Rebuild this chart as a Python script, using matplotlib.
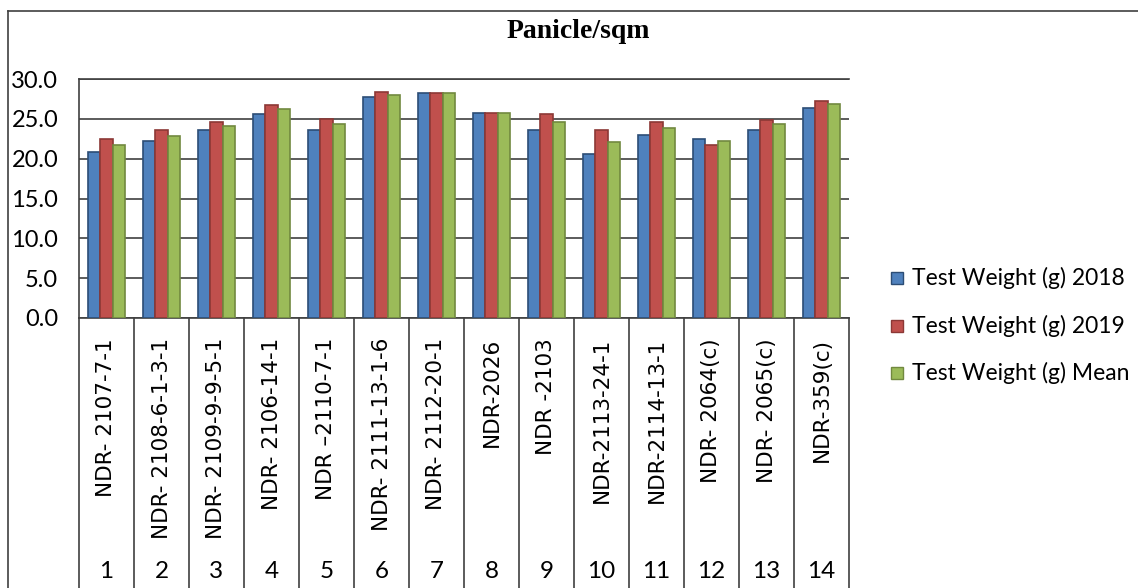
import matplotlib.pyplot as plt
import matplotlib.lines as mlines
import matplotlib.patches as mpatches
import numpy as np

# Datos del grafico
lineas = ['NDR- 2107-7-1', 'NDR- 2108-6-1-3-1', 'NDR- 2109-9-9-5-1', 'NDR- 2106-14-1',
          'NDR \u20132110-7-1', 'NDR- 2111-13-1-6', 'NDR- 2112-20-1', 'NDR-2026',
          'NDR -2103', 'NDR-2113-24-1', 'NDR-2114-13-1', 'NDR- 2064(c)',
          'NDR- 2065(c)', 'NDR-359(c)']
numeros = [str(i) for i in range(1, 15)]
peso_2018 = [20.8, 22.2, 23.6, 25.6, 23.6, 27.7, 28.2, 25.7, 23.6, 20.6, 23.0, 22.5, 23.6, 26.4]
peso_2019 = [22.5, 23.6, 24.6, 26.7, 25.0, 28.4, 28.2, 25.7, 25.6, 23.6, 24.6, 21.7, 24.9, 27.2]
peso_mean = [21.7, 22.9, 24.1, 26.2, 24.3, 28.0, 28.2, 25.7, 24.6, 22.1, 23.8, 22.2, 24.3, 26.9]
series = ['Test Weight (g) 2018', 'Test Weight (g) 2019', 'Test Weight (g) Mean']

colores = ['#4F81BD', '#C0504D', '#9BBB59']
bordes = ['#2C4D75', '#8C3836', '#71893F']
gris = '#404040'

W, H = 1138, 588
fig = plt.figure(figsize=(W / 100, H / 100), dpi=100)

# area del grafico en pixeles
x0, x1, y_top, y_bot = 79, 849, 79, 318
ax = fig.add_axes([x0 / W, 1 - y_bot / H, (x1 - x0) / W, (y_bot - y_top) / H])

x = np.arange(len(lineas))
ancho = 0.222
for k, datos in enumerate([peso_2018, peso_2019, peso_mean]):
  ax.bar(x + (k - 1) * ancho, datos, ancho, color=colores[k], edgecolor=bordes[k],
         linewidth=1.2, zorder=3)

ax.set_xlim(-0.5, len(lineas) - 0.5)
ax.set_ylim(0, 30)
ax.set_yticks(np.arange(0, 31, 5))
ax.set_yticklabels([f'{v:.1f}' for v in np.arange(0, 31, 5)], family='Lato', fontsize=17)
ax.tick_params(axis='y', length=0, pad=15, colors='black')
ax.set_xticks([])
ax.yaxis.grid(True, color=gris, linewidth=1.2, zorder=0)
ax.spines['right'].set_visible(False)
for s in ['left', 'bottom', 'top']:
  ax.spines[s].set_color(gris)
  ax.spines[s].set_linewidth(1.2)

# lineas separadoras debajo del eje
trans = ax.get_xaxis_transform()
fondo = -(H - y_bot) / (y_bot - y_top)
for i in range(len(lineas) + 1):
  ax.plot([i - 0.5, i - 0.5], [0, fondo], color=gris, linewidth=1.2,
          transform=trans, clip_on=False)

# etiquetas de las categorias
y_nom = -(338 - y_bot) / (y_bot - y_top)
y_num = -(572 - y_bot) / (y_bot - y_top)
for i in range(len(lineas)):
  ax.text(i, y_nom, lineas[i], rotation=90, ha='center', va='top', fontsize=15.5,
          family='DejaVu Sans', transform=trans)
  ax.text(i, y_num, numeros[i], ha='center', va='center', fontsize=17.5,
          family='Lato', transform=trans)

# titulo
fig.text(578 / W, 1 - 32 / H, 'Panicle/sqm', ha='center', va='center',
         family='Liberation Serif', fontweight='bold', fontsize=20)

# marco exterior
fig.add_artist(mlines.Line2D([8 / W, 1], [1 - 11 / H, 1 - 11 / H], color=gris, linewidth=1.2))
fig.add_artist(mlines.Line2D([8 / W, 8 / W], [1 - 11 / H, 0], color=gris, linewidth=1.2))

# leyenda
for k, nombre in enumerate(series):
  yc = 278 + k * 47.5
  fig.add_artist(mpatches.Rectangle((891 / W, 1 - (yc + 6) / H), 12 / W, 12 / H,
                                    facecolor=colores[k], edgecolor=bordes[k], linewidth=1))
  fig.text(912 / W, 1 - yc / H, nombre, ha='left', va='center', family='Lato', fontsize=16.5)

plt.savefig('out.png', dpi=100)
